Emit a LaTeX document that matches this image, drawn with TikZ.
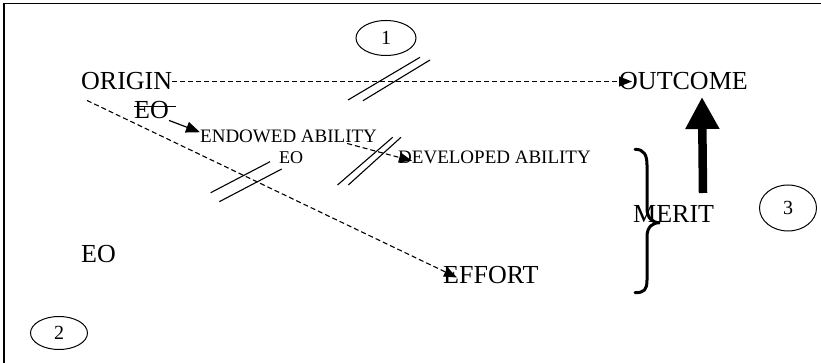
\documentclass[tikz,border=0pt]{standalone}
\usepackage{fontspec}
\setmainfont{Liberation Serif}
\usetikzlibrary{arrows.meta,shapes.geometric}
\begin{document}
\begin{tikzpicture}[x=1pt,y=-1pt,
  big/.style={inner sep=0pt, anchor=base west, font=\fontsize{26}{30}\selectfont},
  mid/.style={inner sep=0pt, anchor=base west, font=\fontsize{19}{22}\selectfont},
  sml/.style={inner sep=0pt, anchor=base west, font=\fontsize{18}{21}\selectfont},
  numcirc/.style={draw, line width=1pt, ellipse, inner sep=0pt, font=\fontsize{20}{23}\selectfont},
  dashln/.style={line width=1.1pt, dash pattern=on 5pt off 3pt, -{Triangle[length=13pt,width=10pt]}},
  solidarr/.style={line width=1.2pt, -{Triangle[length=14pt,width=11pt]}},
  slash/.style={line width=1.1pt},
  fatarr/.style={line width=8.5pt, -{Triangle[length=32pt,width=32pt]}},
  brace/.style={line width=3pt, line cap=round},
  frame/.style={line width=1.3pt}]
\useasboundingbox (0,0) rectangle (821,363);
\draw[frame] (4,363) -- (4,3.3) -- (821,3.3);

\node[big] (origin) at (81,90) {ORIGIN};
\node[big] (outcome) at (619,90) {OUTCOME};
\node[big] (eo1) at (134,119) {EO};
\node[mid] (endowed) at (200,143) {ENDOWED ABILITY};
\node[sml] (eo2) at (279,164) {EO};
\node[mid] (developed) at (398,164) {DEVELOPED ABILITY};
\node[big] (effort) at (443,283) {EFFORT};
\node[big] (eo3) at (81,262) {EO};
\node[big] (merit) at (633,223) {MERIT};
\node[numcirc, minimum width=60pt, minimum height=35pt] (c1) at (386,38) {1};
\node[numcirc, minimum width=57pt, minimum height=33pt] (c2) at (59,333) {2};
\node[numcirc, minimum width=57pt, minimum height=46pt] (c3) at (788,208) {3};

% strike-through on EO
\draw[line width=1.1pt] (134,106.7) -- (176,106.7);

% connectors
\draw[dashln] (origin.east) -- ([xshift=13pt]outcome.west);
\draw[solidarr] ([yshift=-1pt]eo1.south east) -- ([yshift=-2pt]endowed.north west);
\draw[dashln] ([xshift=-30pt]endowed.south east) -- ([xshift=14pt,yshift=-3pt]developed.west);
\draw[dashln] ([xshift=6pt,yshift=-10pt]origin.south west) -- ([xshift=14pt,yshift=-3pt]effort.west);
\coordinate (meritfoot) at (703,193);
\draw[fatarr] (meritfoot) -- (702,97);

% double slashes
\draw[slash] (348,100) -- (420,57.3);
\draw[slash] (363,100.7) -- (430,60);
\draw[slash] (337.5,185) -- (392.7,137.3);
\draw[slash] (348.3,185) -- (401,137.3);
\draw[slash] (210.7,192.7) -- (270,161.7);
\draw[slash] (219.3,201.7) -- (281.7,169);

% brace
\draw[brace] (635,149.3) .. controls (644,149.3) and (647,155) .. (647,165)
  -- (647,208) .. controls (647,218) and (652,222.7) .. (660,222.7)
  .. controls (652,222.7) and (647,227) .. (647,237)
  -- (647,280) .. controls (647,290) and (644,292.7) .. (635,292.7);
\end{tikzpicture}
\end{document}
